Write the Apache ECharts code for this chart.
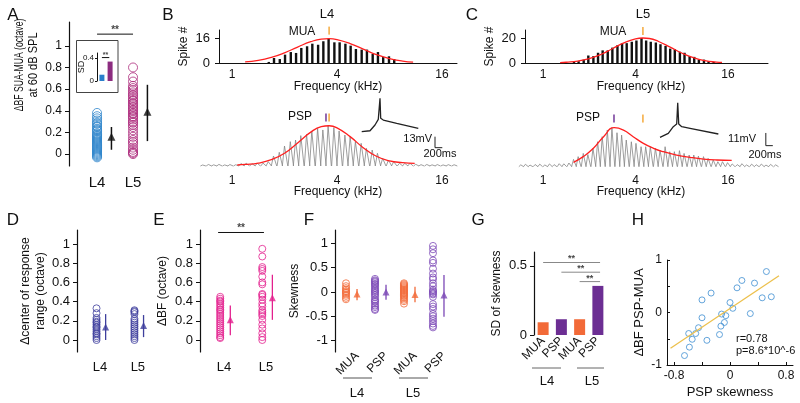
<!DOCTYPE html>
<html><head><meta charset="utf-8">
<script src="https://cdn.jsdelivr.net/npm/echarts@6.0.0/dist/echarts.min.js"></script>
<style>html,body{margin:0;padding:0;background:#fff}#c{width:800px;height:403px}</style>
</head><body><div id="c"></div>
<script>
// ================= DATA =================
const layers = ['L4', 'L5'];
const freqTicksKHz = [1, 4, 16];

// Panel A : ΔBF SUA-MUA (octave) at 60 dB SPL
const aTicks = [0, 0.2, 0.4, 0.6, 0.8, 1];
const aL4 = [0.38, 0.35, 0.33, 0.31, 0.29, 0.28, 0.26, 0.25, 0.23, 0.22, 0.21, 0.19, 0.18, 0.17, 0.16, 0.15, 0.14, 0.13, 0.12, 0.11, 0.10, 0.09, 0.08, 0.07, 0.06, 0.05, 0.04, 0.03, 0.02, 0.01, 0.0, -0.01, -0.02, -0.03];
const aL5 = [0.80, 0.71, 0.67, 0.63, 0.61, 0.59, 0.57, 0.55, 0.54, 0.52, 0.50, 0.49, 0.47, 0.46, 0.44, 0.43, 0.41, 0.40, 0.38, 0.37, 0.35, 0.34, 0.32, 0.30, 0.29, 0.27, 0.25, 0.22, 0.19, 0.16, 0.13, 0.11, 0.09, 0.06, 0.04, 0.02, 0.01, 0.0];
const aMean = [0.16, 0.39];
const aLow = [0.04, 0.12];
const aHigh = [0.25, 0.64];
const aInsetTicks = [0, 0.4];
const aInsetSD = [0.11, 0.34];

// Panel B : L4 example (tone positions in octaves re 1 kHz)
const bToneOct = [-0.55, -0.44, -0.34, -0.24, -0.13, -0.03, 0.08, 0.18, 0.28, 0.39, 0.49, 0.60,
  0.70, 0.80, 0.91, 1.01, 1.12, 1.22, 1.32, 1.43, 1.53, 1.64, 1.74, 1.84, 1.95, 2.05, 2.16, 2.26,
  2.36, 2.47, 2.57, 2.68, 2.78, 2.88, 2.99, 3.09, 3.20, 3.30, 3.40, 3.51, 3.61, 3.72, 3.82, 3.92, 4.03, 4.13, 4.24];
const bMuaSpikes = [0, 0, 0, 0, 0, 0, 0, 0, 0, 0, 0, 0,
  0.7, 3.3, 2.6, 5.5, 7.2, 6.6, 9.9, 11, 12.7, 12, 14.3, 16, 13.6, 13.6, 12.7, 11.4,
  9.2, 8.8, 8.8, 5.9, 7.2, 3.9, 4.4, 2.6, 0, 0, 0, 0, 0, 0, 0, 0, 0, 0, 0];
const bPspMv = [1.2, 1.8, 1.4, 1.9, 1.3, 1.7, 1.5, 3.0, 3.4, 2.8, 3.2, 3.4,
  5.1, 11.8, 16.2, 23.6, 28.8, 30.7, 35.9, 37.4, 41.4, 44.5, 42.6, 47.7, 45.3, 41.4, 36.6, 34.7,
  28.8, 26.8, 20.9, 18.9, 15.0, 9.1, 7.1, 5.1, 3.2, 3.2, 3.2, 2.0, 1.6, 1.8, 1.4, 1.7, 1.3, 1.6, 1.5];
const bMuaFitOct = [0.25, 0.5, 0.75, 1.0, 1.25, 1.5, 1.7, 1.85, 2.0, 2.25, 2.5, 2.75, 3.0, 3.25, 3.45];
const bMuaFit = [0.7, 1.7, 3.7, 6.7, 10.5, 14.0, 15.7, 16.0, 15.4, 12.8, 9.1, 5.5, 2.9, 1.3, 0.6];
const bPspFitOct = [0.1, 0.25, 0.5, 0.75, 1.0, 1.25, 1.5, 1.7, 1.85, 2.0, 2.25, 2.5, 2.75, 3.0, 3.25, 3.48];
const bPspFit = [1.2, 1.8, 3.4, 7.5, 15.0, 27.3, 40.0, 46.5, 47.6, 45.1, 34.7, 21.6, 11.5, 6.0, 4.0, 3.2];
const bBestOct = { mua: 1.85, psp: 1.79 };
const bSpikeMs = [184, 411, 548, 638, 685, 704, 775, 1143, 1734];
const bSpikeMv = [24.0, 25.1, 31.9, 38.6, 63.4, 39.8, 37.8, 33.9, 28.0];
const bScale = { mv: 13, ms: 200 };

// Panel C : L5 example
const cToneOct = [-0.47, -0.37, -0.27, -0.16, -0.06, 0.05, 0.15, 0.25, 0.36, 0.46, 0.57,
  0.67, 0.77, 0.88, 0.98, 1.09, 1.19, 1.29, 1.40, 1.50, 1.61, 1.71, 1.81, 1.92, 2.02, 2.13, 2.23,
  2.33, 2.44, 2.54, 2.65, 2.75, 2.85, 2.96, 3.06, 3.17, 3.27, 3.37, 3.48, 3.58, 3.69, 3.79, 3.89,
  4.00, 4.10, 4.21, 4.31, 4.41, 4.52, 4.62, 4.73, 4.83, 4.93, 5.04];
const cMuaSpikes = [0, 0, 0, 0, 0, 0, 0, 0, 0, 0, 0,
  0.8, 1.4, 2.7, 6.0, 5.5, 8.2, 10.1, 10.1, 12.3, 14.2, 15.6, 15.9, 17, 18, 20, 18, 17, 16.4, 15,
  13.7, 11.5, 11, 9, 8.2, 5.5, 4.9, 2.7, 2.7, 1.4, 0.8, 0, 0, 0, 0, 0, 0, 0, 0, 0, 0, 0, 0, 0];
const cPspMv = [1.6, 2.1, 1.4, 1.9, 2.2, 1.5, 2.4, 1.8, 2.6, 2.5, 3.2,
  6.3, 8.7, 11.5, 10.5, 15.9, 21.6, 26.0, 31.8, 33.8, 29.4, 27.4, 23.1, 21.6, 20.2, 17.3, 17.3,
  17.3, 15.9, 14.4, 17.3, 13.0, 13.0, 13.9, 11.5, 10.1, 10.1, 9.2, 8.7, 7.2, 5.8, 4.3, 4.3,
  3.5, 2.4, 1.8, 2.6, 1.5, 2.2, 1.7, 2.3, 1.4, 2.0, 1.6];
const cMuaFitOct = [0.37, 0.5, 0.75, 1.0, 1.25, 1.5, 1.75, 2.0, 2.16, 2.3, 2.5, 2.75, 3.0, 3.25, 3.5, 3.75, 3.87];
const cMuaFit = [0.3, 0.6, 1.5, 3.5, 6.8, 11.4, 16.1, 19.3, 20.0, 19.6, 17.2, 12.7, 8.0, 4.3, 1.9, 0.7, 0.45];
const cPspFitOct = [0.66, 0.87, 1.09, 1.31, 1.54, 1.74, 1.95, 2.17, 2.39, 2.60, 2.89, 3.18, 3.47, 3.76, 4.08];
const cPspFit = [3.8, 8.7, 15.9, 26.0, 33.8, 31.7, 26.0, 20.2, 15.9, 13.0, 10.1, 8.1, 6.6, 5.8, 5.5];
const cBestOct = { mua: 2.16, psp: 1.535 };
const cSpikeMs = [143, 380, 523, 620, 649, 678, 764, 1001, 1810];
const cSpikeMv = [15.3, 18.8, 24.5, 26.8, 45.3, 26.8, 24.5, 23.1, 18.2];
const cScale = { mv: 11, ms: 200 };

// Panel D : Δcenter of response range
const dL4 = [0.33, 0.28, 0.23, 0.21, 0.19, 0.18, 0.16, 0.14, 0.13, 0.11, 0.09, 0.07, 0.06, 0.04, 0.02, 0.0];
const dL5 = [0.31, 0.30, 0.29, 0.27, 0.22, 0.20, 0.18, 0.16, 0.14, 0.12, 0.10, 0.08, 0.06, 0.04, 0.02, 0.0];
const dMean = [0.135, 0.15];
const dLow = [0.0, 0.03];
const dHigh = [0.27, 0.26];

// Panel E : ΔBF (octave)
const eL4 = [0.45, 0.43, 0.41, 0.40, 0.38, 0.36, 0.34, 0.32, 0.31, 0.29, 0.27, 0.25, 0.23, 0.21, 0.19, 0.17, 0.15, 0.13, 0.11, 0.09, 0.07, 0.05, 0.03, 0.02];
const eL5 = [0.95, 0.87, 0.76, 0.74, 0.72, 0.66, 0.60, 0.58, 0.48, 0.47, 0.45, 0.42, 0.38, 0.35, 0.31, 0.29, 0.27, 0.25, 0.21, 0.16, 0.12, 0.07, 0.03, 0.0];
const eMean = [0.21, 0.44];
const eLow = [0.05, 0.21];
const eHigh = [0.36, 0.68];

// Panel F : Skewness
const fGroups = ['MUA', 'PSP', 'MUA', 'PSP'];
const fTicks = [-1, -0.5, 0, 0.5, 1];
const fMuaL4 = [0.18, 0.12, 0.08, 0.05, 0.02, 0.0, -0.02, -0.05, -0.08, -0.12, -0.15];
const fPspL4 = [0.27, 0.24, 0.22, 0.20, 0.17, 0.15, 0.12, 0.08, 0.05, 0.02, 0.0, -0.03, -0.06, -0.10, -0.15, -0.18, -0.20, -0.24, -0.28, -0.31, -0.35, -0.37];
const fMuaL5 = [0.18, 0.16, 0.14, 0.12, 0.10, 0.08, 0.06, 0.04, 0.02, 0.0, -0.02, -0.04, -0.06, -0.08, -0.10, -0.13, -0.16, -0.19, -0.24];
const fPspL5 = [0.95, 0.88, 0.80, 0.65, 0.60, 0.48, 0.38, 0.30, 0.26, 0.18, 0.12, 0.05, 0.02, 0.0, -0.03, -0.05, -0.10, -0.25, -0.30, -0.35, -0.45, -0.50, -0.55, -0.60, -0.65, -0.70, -0.73];
const fMean = [-0.04, 0.0, -0.05, -0.06];
const fLow = [-0.17, -0.16, -0.21, -0.51];
const fHigh = [0.06, 0.15, 0.11, 0.35];

// Panel G : SD of skewness
const gSD = [0.092, 0.114, 0.114, 0.355];
const gTicks = [0, 0.5];

// Panel H : ΔBF PSP-MUA vs PSP skewness
const hSkew = [0.52, 0.17, 0.35, 0.10, -0.27, -0.40, 0.59, 0.46, 0.0, 0.04, 0.29, -0.12, -0.06, -0.40, -0.08, -0.13, -0.45, -0.49, -0.59, -0.15, -0.54, -0.33, -0.58, -0.65];
const hDBF = [0.78, 0.61, 0.56, 0.47, 0.37, 0.24, 0.30, 0.28, 0.19, 0.08, -0.02, -0.03, -0.06, -0.10, -0.19, -0.26, -0.29, -0.40, -0.40, -0.42, -0.51, -0.53, -0.66, -0.82];
const hFitX = [-0.85, 0.70];
const hFitY = [-0.68, 0.70];
const hXTicks = [-0.8, 0, 0.8];
const hYTicks = [-1, 0, 1];

// ================= STYLE / BUILD =================
const FONT = "'Liberation Sans', Arial, Helvetica, sans-serif";
const INK = '#111';
const C = {
  a4: '#2f86cc', a5: '#ad2a7c', i4: '#2a80cc', i5: '#8c2c80',
  d: '#3e3f9d', e: '#e3208e', orange: '#f26a38', purple: '#6c2e93', fpurple: '#7c48b6',
  bf: '#f4a532', red: '#ff2020', trace: '#858585', h: '#3f8fd2', fit: '#ecc04c'
};
const grids = [], xAxis = [], yAxis = [], series = [], graphic = [];
const hidden = { splitLine: { show: false }, axisLine: { show: false, onZero: false }, axisTick: { show: false }, axisLabel: { show: false } };
function grid(rect, xa, ya) {
  const gi = grids.length;
  grids.push(Object.assign({ containLabel: false, show: false }, rect));
  xAxis.push(Object.assign({ gridIndex: gi, type: 'value' }, JSON.parse(JSON.stringify(hidden)), xa));
  yAxis.push(Object.assign({ gridIndex: gi, type: 'value' }, JSON.parse(JSON.stringify(hidden)), ya));
  return gi;
}
const lineOn = (w = 1) => ({ show: true, onZero: false, lineStyle: { color: INK, width: w } });
const ticksAt = (vals, len = 4, inside = false) => ({ show: true, customValues: vals, length: len, inside, lineStyle: { color: INK, width: 1 } });
const labelsAt = (vals, o = {}) => Object.assign({ show: true, customValues: vals, color: INK, fontFamily: FONT, fontSize: 12, margin: 6 }, o);
const nameStyle = (size = 12) => ({ color: INK, fontFamily: FONT, fontSize: size, lineHeight: size + 3 });
const base = { silent: true, animation: false };
function sc(gi, data, o) { series.push(Object.assign({ type: 'scatter', xAxisIndex: gi, yAxisIndex: gi, data }, base, o)); }
function ln(gi, data, o) { series.push(Object.assign({ type: 'line', xAxisIndex: gi, yAxisIndex: gi, data, symbol: 'none' }, base, o)); }
function hollow(gi, data, color, size) { sc(gi, data, { symbol: 'circle', symbolSize: size, itemStyle: { color: 'rgba(0,0,0,0)', borderColor: color, borderWidth: 1 } }); }
function errBars(gi, data, color, width) {
  series.push(Object.assign({ type: 'custom', xAxisIndex: gi, yAxisIndex: gi, data,
    renderItem: (p, api) => { const a = api.coord([api.value(0), api.value(1)]), b = api.coord([api.value(0), api.value(2)]);
      return { type: 'line', shape: { x1: a[0], y1: a[1], x2: b[0], y2: b[1] }, style: { stroke: color, lineWidth: width } }; } }, base));
}
function sig(gi, x1, x2, y, color, size, dist) {
  ln(gi, [[x1, y], [x2, y]], { lineStyle: { color, width: 1 } });
  sc(gi, [[(x1 + x2) / 2, y]], { symbol: 'circle', symbolSize: 2, itemStyle: { color: 'rgba(0,0,0,0)' }, z: 8,
    label: { show: true, formatter: '**', position: 'top', distance: dist, color: INK, fontFamily: FONT, fontSize: size, fontWeight: 'bold' } });
}
function txt(x, y, s, size = 12, o = {}) {
  graphic.push({ type: 'text', x, y, rotation: o.rot || 0, scaleX: o.sx || 1, silent: true,
    style: { text: s, fill: o.color || INK, font: size + 'px ' + FONT, textAlign: o.align || 'center', textVerticalAlign: 'middle', align: o.align || 'center', verticalAlign: 'middle' } });
}
function gline(x1, y1, x2, y2, color = '#555') { graphic.push({ type: 'line', silent: true, shape: { x1, y1, x2, y2 }, style: { stroke: color, lineWidth: 1 } }); }
const pairs = (xs, ys) => xs.map((x, i) => [x, ys[i]]);
const octLabel = v => String(Math.round(Math.pow(2, v)));
const octTicks = freqTicksKHz.map(f => Math.log2(f));

// panel letters
[['A', 13, 15], ['B', 168, 15], ['C', 472, 15], ['D', 13, 220], ['E', 159, 220], ['F', 309, 220], ['G', 478, 220], ['H', 638, 220]]
  .forEach(([s, x, y]) => txt(x, y, s, 17));

// ---------- Panel A ----------
const gA = grid({ left: 69, top: 22, width: 100, height: 144 },
  { min: 0.22, max: 3.0, axisLabel: labelsAt([1, 2], { formatter: v => layers[Math.round(v) - 1], fontSize: 15, margin: 9 }) },
  { min: -0.11, max: 1.22, axisLine: lineOn(1.2), axisTick: ticksAt(aTicks), axisLabel: labelsAt(aTicks, { margin: 7 }) });
hollow(gA, aL4.map(v => [1, v]), C.a4, 9);
hollow(gA, aL5.map(v => [2, v]), C.a5, 9);
errBars(gA, aMean.map((m, i) => [i + 1.4, aLow[i], aHigh[i]]), INK, 1.5);
sc(gA, aMean.map((m, i) => [i + 1.4, m]), { symbol: 'triangle', symbolSize: 8, itemStyle: { color: INK } });
sig(gA, 1, 2, 1.108, INK, 10, -2);
txt(20, 65, 'ΔBF SUA-MUA (octave)', 12, { rot: Math.PI / 2, sx: 0.72 });
txt(34, 65, 'at 60 dB SPL', 12, { rot: Math.PI / 2, sx: 0.92 });
graphic.push({ type: 'rect', silent: true, shape: { x: 76.5, y: 40.5, width: 41.5, height: 52 }, style: { fill: 'rgba(0,0,0,0)', stroke: '#444', lineWidth: 1 } });
const gAi = grid({ left: 97, top: 53, width: 18, height: 28 },
  { min: -0.6, max: 1.6 },
  { min: 0, max: 0.49, axisLine: lineOn(1), axisTick: ticksAt(aInsetTicks, 2), axisLabel: labelsAt(aInsetTicks, { fontSize: 8, margin: 3 }) });
series.push(Object.assign({ type: 'bar', xAxisIndex: gAi, yAxisIndex: gAi, barWidth: 5,
  data: aInsetSD.map((v, i) => ({ value: [i, v], itemStyle: { color: [C.i4, C.i5][i] } })) }, base));
sig(gAi, 0, 0.9, 0.41, INK, 7, -2);
txt(82, 67, 'SD', 9, { rot: Math.PI / 2 });

// ---------- Panel B & C builders ----------
function tuningPanel(P) {
  const gT = grid({ left: P.left, top: 30, width: P.width, height: 33 },
    { min: P.xmin, max: P.xmax, axisLine: lineOn(1), axisLabel: labelsAt(octTicks, { formatter: octLabel, margin: 6 }) },
    { min: 0, max: P.ymax, axisLine: lineOn(1), axisTick: ticksAt(P.yTicks), axisLabel: labelsAt(P.yTicks, { margin: 9, fontSize: 13 }),
      name: 'Spike #', nameLocation: 'middle', nameGap: P.nameGap, nameTextStyle: nameStyle(12) });
  series.push(Object.assign({ type: 'bar', xAxisIndex: gT, yAxisIndex: gT, barWidth: 2.4, itemStyle: { color: INK },
    data: pairs(P.tones, P.mua).filter(d => d[1] > 0) }, base));
  ln(gT, pairs(P.muaFitOct, P.muaFit), { smooth: true, lineStyle: { color: C.red, width: 1.3 }, z: 5 });
  sc(gT, [[P.best.mua, P.markTop]], { symbol: 'rect', symbolSize: [1.8, 8], itemStyle: { color: C.bf }, z: 6 });

  const gP = grid({ left: P.pLeft, top: 95, width: P.pWidth, height: 75 },
    { min: P.pxmin, max: P.pxmax, axisLabel: labelsAt(octTicks, { formatter: octLabel, margin: 5 }) },
    { min: P.pymin, max: P.pymax });
  series.push(Object.assign({ type: 'custom', xAxisIndex: gP, yAxisIndex: gP, data: pairs(P.tones, P.psp),
    renderItem: (p, api) => {
      const o = api.value(0), a = api.value(1), h = 0.052;
      const p0 = api.coord([o - h, 0]), p1 = api.coord([o - 0.01, a]), p2 = api.coord([o + h, 0]);
      return { type: 'polyline', shape: { points: [p0, p1, p2] }, style: { stroke: C.trace, lineWidth: 0.8, fill: null } };
    } }, base));
  ln(gP, pairs(P.pspFitOct, P.pspFit), { smooth: true, lineStyle: { color: C.red, width: 1.3 }, z: 5 });
  sc(gP, [[P.best.psp, P.markPsp]], { symbol: 'rect', symbolSize: [1.8, 8], itemStyle: { color: C.purple }, z: 6 });
  sc(gP, [[P.best.mua, P.markPsp]], { symbol: 'rect', symbolSize: [1.8, 8], itemStyle: { color: C.bf }, z: 6 });

  const gI = grid(P.inset, { min: 0, max: P.insetX }, { min: 0, max: P.insetY });
  ln(gI, pairs(P.spikeMs, P.spikeMv), { lineStyle: { color: '#222', width: 1.3 } });
  const [t0, v0] = P.scaleAt;
  ln(gI, [[t0, v0 + P.scale.mv], [t0, v0], [t0 + P.scale.ms, v0]], { lineStyle: { color: '#222', width: 1 } });
}
tuningPanel({ left: 219, width: 238, xmin: -0.248, xmax: 4.286, ymax: 21.7, yTicks: [0, 16], nameGap: 22,
  tones: bToneOct, mua: bMuaSpikes, muaFitOct: bMuaFitOct, muaFit: bMuaFit, best: bBestOct, markTop: 21.3,
  pLeft: 200, pWidth: 257, pxmin: -0.61, pxmax: 4.286, pymin: -4.73, pymax: 83.92,
  psp: bPspMv, pspFitOct: bPspFitOct, pspFit: bPspFit, markPsp: 57.3,
  inset: { left: 355, top: 92, width: 90, height: 60 }, insetX: 2466, insetY: 70.9,
  spikeMs: bSpikeMs, spikeMv: bSpikeMv, scale: bScale, scaleAt: [2192, 5.1] });
tuningPanel({ left: 525, width: 243, xmin: -0.389, xmax: 4.865, ymax: 26.4, yTicks: [0, 20], nameGap: 23,
  tones: cToneOct, mua: cMuaSpikes, muaFitOct: cMuaFitOct, muaFit: cMuaFit, best: cBestOct, markTop: 25.6,
  pLeft: 520, pWidth: 260, pxmin: -0.497, pxmax: 5.124, pymin: -2.86, pymax: 62.08,
  psp: cPspMv, pspFitOct: cPspFitOct, pspFit: cPspFit, markPsp: 41.7,
  inset: { left: 655, top: 95, width: 125, height: 60 }, insetX: 3571, insetY: 52,
  spikeMs: cSpikeMs, spikeMv: cSpikeMv, scale: cScale, scaleAt: [3166, 8.1] });
txt(327, 14, 'L4', 13); txt(302, 32, 'MUA', 12); txt(300, 117, 'PSP', 12);
txt(338, 87, 'Frequency (kHz)', 12); txt(338, 192, 'Frequency (kHz)', 12);
txt(432, 139, '13mV', 11, { align: 'right' }); txt(440, 154, '200ms', 11);
txt(643, 14, 'L5', 13); txt(613, 32, 'MUA', 12); txt(588, 118, 'PSP', 12);
txt(641, 87, 'Frequency (kHz)', 12); txt(641, 192, 'Frequency (kHz)', 12);
txt(756, 139, '11mV', 11, { align: 'right' }); txt(765, 155, '200ms', 11);

// ---------- Panel D / E ----------
const dotTicks = [0, 0.2, 0.4, 0.6, 0.8, 1];
function dotPanel(left, width, xmin, xmax, v4, v5, mean, lo, hi, color, name, gap) {
  const g = grid({ left, top: 230, width, height: 122 },
    { min: xmin, max: xmax, axisLabel: labelsAt([1, 2], { formatter: v => layers[Math.round(v) - 1], fontSize: 13, margin: 9 }) },
    { min: -0.125, max: 1.146, axisLine: lineOn(1.2), axisTick: ticksAt(dotTicks), axisLabel: labelsAt(dotTicks, { margin: 7, fontSize: 13 }),
      name, nameLocation: 'middle', nameGap: gap, nameTextStyle: nameStyle(12) });
  hollow(g, v4.map(v => [0.91, v]), color, 7);
  hollow(g, v5.map(v => [1.91, v]), color, 7);
  errBars(g, mean.map((m, i) => [i + 1.15, lo[i], hi[i]]), color, 1.3);
  sc(g, mean.map((m, i) => [i + 1.15, m]), { symbol: 'triangle', symbolSize: 7, itemStyle: { color } });
  return g;
}
dotPanel(77, 73, 0.395, 2.32, dL4, dL5, dMean, dLow, dHigh, C.d, 'Δcenter of response\nrange (octave)', 27);
const gE = dotPanel(200, 85, 0.43, 2.45, eL4, eL5, eMean, eLow, eHigh, C.e, 'ΔBF (octave)', 30);
sig(gE, 0.86, 1.95, 1.12, INK, 10, -2);

// ---------- Panel F ----------
const gF = grid({ left: 335, top: 230, width: 120, height: 122 },
  { min: 0.62, max: 4.76, axisLabel: labelsAt([1.38, 2.38, 3.38, 4.38], { formatter: v => fGroups[Math.floor(v) - 1], rotate: 45, margin: 2 }) },
  { min: -1.237, max: 1.278, axisLine: lineOn(1.2), axisTick: ticksAt(fTicks), axisLabel: labelsAt(fTicks, { margin: 7, fontSize: 13 }),
    name: 'Skewness', nameLocation: 'middle', nameGap: 31, nameTextStyle: nameStyle(12) });
[fMuaL4, fPspL4, fMuaL5, fPspL5].forEach((vals, i) => hollow(gF, vals.map(v => [i + 1, v]), [C.orange, C.fpurple][i % 2], 7));
fMean.forEach((m, i) => {
  const col = [C.orange, C.fpurple][i % 2];
  errBars(gF, [[i + 1.38, fLow[i], fHigh[i]]], col, 1.3);
  sc(gF, [[i + 1.38, m]], { symbol: 'triangle', symbolSize: 7, itemStyle: { color: col } });
});
gline(343, 378, 372, 378); gline(399, 378, 428, 378);
txt(357, 393, 'L4', 13); txt(413, 393, 'L5', 13);

// ---------- Panel G ----------
const gG = grid({ left: 534, top: 252, width: 73, height: 83 },
  { min: -0.5, max: 3.5, axisLabel: labelsAt([0, 1, 2, 3], { formatter: v => fGroups[Math.round(v)], rotate: 45, margin: 4 }) },
  { min: 0, max: 0.6, axisLine: lineOn(1.2), axisTick: ticksAt(gTicks), axisLabel: labelsAt(gTicks, { margin: 7, fontSize: 13 }),
    name: 'SD of skewness', nameLocation: 'middle', nameGap: 30, nameTextStyle: nameStyle(12) });
series.push(Object.assign({ type: 'bar', xAxisIndex: gG, yAxisIndex: gG, barWidth: 11,
  data: gSD.map((v, i) => ({ value: [i, v], itemStyle: { color: [C.orange, C.purple][i % 2] } })) }, base));
sig(gG, 0.0, 3.12, 0.524, '#888', 9, -2);
sig(gG, 1.0, 3.12, 0.454, '#888', 9, -2);
sig(gG, 2.0, 3.12, 0.386, '#888', 9, -2);
gline(532, 368, 561, 368, '#666'); gline(577, 368, 604, 368, '#666');
txt(547, 381, 'L4', 13); txt(592, 381, 'L5', 13);

// ---------- Panel H ----------
const gH = grid({ left: 667, top: 260, width: 126, height: 105 },
  { min: -0.9, max: 0.9, axisLine: lineOn(1), axisTick: ticksAt([-0.8, -0.4, 0, 0.4, 0.8], 3, true), axisLabel: labelsAt(hXTicks, { margin: 5, fontSize: 12 }),
    name: 'PSP skewness', nameLocation: 'middle', nameGap: 19, nameTextStyle: nameStyle(13) },
  { min: -1, max: 1, axisLine: lineOn(1), axisTick: ticksAt([-1, -0.5, 0, 0.5, 1], 3, true), axisLabel: labelsAt(hYTicks, { margin: 5, fontSize: 12 }),
    name: 'ΔBF PSP-MUA', nameLocation: 'middle', nameGap: 16, nameTextStyle: nameStyle(13) });
ln(gH, pairs(hFitX, hFitY), { lineStyle: { color: C.fit, width: 1.3 } });
hollow(gH, pairs(hSkew, hDBF), C.h, 6);
txt(736, 339, 'r=0.78', 11, { align: 'left' });
txt(736, 351, 'p=8.6*10^-6', 11, { align: 'left' });

const chart = echarts.init(document.getElementById('c'), null, { renderer: 'canvas', width: 800, height: 403 });
chart.setOption({ animation: false, backgroundColor: '#fff', textStyle: { fontFamily: FONT },
  grid: grids, xAxis, yAxis, series, graphic });
</script></body></html>
